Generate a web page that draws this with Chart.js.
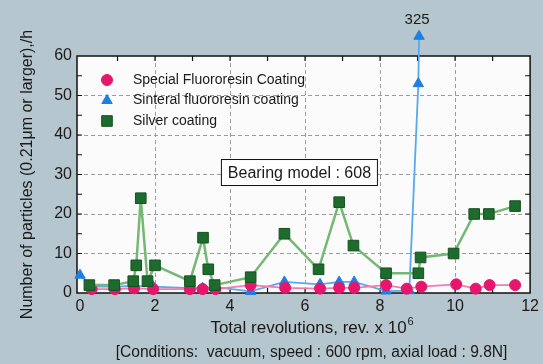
<!DOCTYPE html>
<html>
<head>
<meta charset="utf-8">
<script src="https://cdn.jsdelivr.net/npm/chart.js@4"></script>
<style>
  html, body { margin: 0; background: #b5c6ce; }
  canvas { display: block; }
</style>
</head>
<body>
<canvas id="chart" width="543" height="364"></canvas>
<script>
// readings (rev x 10^6, particles/h)
const silverRev = [0.25, 0.91, 1.42, 1.5, 1.62, 1.8, 2.0, 2.93, 3.28, 3.42, 3.59, 4.55, 5.45, 6.36, 6.91, 7.29, 8.16, 9.02, 9.08, 9.96, 10.51, 10.9, 11.6];
const silverCount = [2, 2, 3, 7, 24, 3, 7, 3, 14, 6, 2, 4, 15, 6, 23, 12, 5, 5, 9, 10, 20, 20, 22];
const specialRev = [0.31, 0.93, 1.44, 1.95, 2.93, 3.27, 3.61, 4.55, 5.47, 6.4, 6.91, 7.31, 8.16, 8.71, 9.1, 10.03, 10.55, 10.92, 11.6];
const specialCount = [1, 1, 1.2, 1, 1, 1, 1, 2, 1.3, 1.1, 1.3, 1.3, 2, 1.1, 1.6, 2.2, 1.1, 2, 2];
const sinteralRev = [0, 0.31, 0.93, 1.44, 1.95, 2.93, 3.27, 3.61, 4.55, 5.45, 6.4, 6.91, 7.31, 8.16, 8.78, 9.02, 9.04];
const sinteralCount = [4.5, 1.6, 1.6, 1.8, 1.6, 1.2, 1.2, 1.5, 0.4, 2.8, 2.2, 2.8, 2.8, 0.5, 0.6, 53, 325];

const seriesNames = ['Special Fluororesin Coating', 'Sinteral fluororesin coating', 'Silver coating'];
const xTicks = [0, 2, 4, 6, 8, 10, 12];
const yTicks = [0, 10, 20, 30, 40, 50, 60];
const yBreak = 65; // values above the axis are drawn at the break, labelled with the real value

const FONT = "'Liberation Sans', Arial, sans-serif";

function toPoints(xs, ys) {
  return xs.map((x, i) => ({ x: x, y: Math.min(ys[i], yBreak), real: ys[i] }));
}

function drawMarker(ctx, style, x, y, r, fill, stroke) {
  ctx.save();
  ctx.fillStyle = fill;
  ctx.strokeStyle = stroke;
  ctx.lineWidth = 1;
  ctx.beginPath();
  if (style === 'circle') {
    ctx.arc(x, y, r, 0, Math.PI * 2);
  } else if (style === 'triangle') {
    ctx.moveTo(x, y - r);
    ctx.lineTo(x + r * 0.866, y + r * 0.5);
    ctx.lineTo(x - r * 0.866, y + r * 0.5);
    ctx.closePath();
  } else {
    const s = r * Math.SQRT1_2;
    ctx.rect(x - s, y - s, 2 * s, 2 * s);
  }
  ctx.fill();
  ctx.stroke();
  ctx.restore();
}

const decor = {
  id: 'decor',
  beforeDraw(chart) {
    const { ctx, chartArea: a } = chart;
    ctx.save();
    ctx.fillStyle = '#fbfbfb';
    ctx.fillRect(a.left, a.top, a.right - a.left, a.bottom - a.top);
    ctx.restore();
  },
  beforeDatasetsDraw(chart) {
    const { ctx, chartArea: a, scales } = chart;
    ctx.save();
    ctx.strokeStyle = '#111';
    ctx.lineWidth = 1.5;
    ctx.strokeRect(a.left, a.top, a.right - a.left, a.bottom - a.top);
    ctx.lineWidth = 1.2;
    ctx.beginPath();
    for (let v = 1; v < 12; v++) {
      const px = scales.x.getPixelForValue(v);
      ctx.moveTo(px, a.top); ctx.lineTo(px, a.top + 5);
      ctx.moveTo(px, a.bottom); ctx.lineTo(px, a.bottom - 5);
    }
    for (let v = 5; v < 60; v += 5) {
      const py = scales.y.getPixelForValue(v);
      ctx.moveTo(a.left, py); ctx.lineTo(a.left + 5, py);
      ctx.moveTo(a.right, py); ctx.lineTo(a.right - 5, py);
    }
    ctx.stroke();
    ctx.restore();
  },
  afterDraw(chart) {
    const { ctx, chartArea: a, scales } = chart;
    ctx.save();
    ctx.fillStyle = '#1a1a1a';

    // legend inside the plot: special, sinteral, silver
    const order = [2, 1, 0];
    ctx.font = '14px ' + FONT;
    ctx.textBaseline = 'middle';
    ctx.textAlign = 'left';
    order.forEach((di, row) => {
      const d = chart.data.datasets[di];
      const y = a.top + 24 + row * 20.5;
      drawMarker(ctx, d.pointStyle, a.left + 30, y, d.pointRadius, d.pointBackgroundColor, d.pointBorderColor);
      ctx.fillStyle = '#1a1a1a';
      ctx.fillText(d.label, a.left + 56, y);
    });

    // bearing model box
    const bx = scales.x.getPixelForValue(5.85);
    const by = scales.y.getPixelForValue(30.5);
    ctx.font = '16px ' + FONT;
    const txt = 'Bearing model : 608';
    const w = 156, h = 26;
    ctx.fillStyle = '#ffffff';
    ctx.fillRect(bx - w / 2, by - h / 2, w, h);
    ctx.strokeStyle = '#111';
    ctx.lineWidth = 1;
    ctx.strokeRect(bx - w / 2, by - h / 2, w, h);
    ctx.fillStyle = '#1a1a1a';
    ctx.textAlign = 'center';
    ctx.fillText(txt, bx, by + 1);

    // points past the axis break: marker + real value
    chart.data.datasets.forEach((d, di) => {
      const meta = chart.getDatasetMeta(di);
      d.data.forEach((p, i) => {
        if (p.real > yBreak) {
          const el = meta.data[i];
          drawMarker(ctx, d.pointStyle, el.x, el.y, d.pointRadius, d.pointBackgroundColor, d.pointBorderColor);
          ctx.fillStyle = '#1a1a1a';
          ctx.font = '15px ' + FONT;
          ctx.fillText(String(p.real), el.x - 2, el.y - 16);
        }
      });
    });

    // axis titles
    const cx = (a.left + a.right) / 2 + 8;
    ctx.font = '17px ' + FONT;
    const base = 'Total revolutions, rev. x 10';
    const bw = ctx.measureText(base).width;
    ctx.font = '11px ' + FONT;
    const sw = ctx.measureText('6').width;
    const sx = cx - (bw + sw) / 2;
    ctx.textAlign = 'left';
    ctx.font = '17px ' + FONT;
    ctx.fillText(base, sx, 328);
    ctx.font = '11px ' + FONT;
    ctx.fillText('6', sx + bw + 1, 322);

    ctx.textAlign = 'center';
    ctx.font = '15.6px ' + FONT;
    ctx.fillText('[Conditions:  vacuum, speed : 600 rpm, axial load : 9.8N]', cx, 353);

    ctx.save();
    ctx.translate(28, (a.top + a.bottom) / 2);
    ctx.rotate(-Math.PI / 2);
    ctx.font = '16px ' + FONT;
    ctx.fillText('Number of particles (0.21\u03bcm or larger),/h', 0, 0);
    ctx.restore();

    ctx.restore();
  }
};

const tickFont = { family: FONT, size: 16 };

new Chart(document.getElementById('chart'), {
  type: 'line',
  data: {
    datasets: [
      {
        label: seriesNames[2],
        data: toPoints(silverRev, silverCount),
        borderColor: '#74b874',
        borderWidth: 2.5,
        pointStyle: 'rect',
        pointRadius: 7.5,
        pointBackgroundColor: '#1d6b2d',
        pointBorderColor: '#145221',
        pointBorderWidth: 1,
        order: 0
      },
      {
        label: seriesNames[1],
        data: toPoints(sinteralRev, sinteralCount),
        borderColor: '#58a9ee',
        borderWidth: 1.8,
        pointStyle: 'triangle',
        pointRadius: 6,
        pointBackgroundColor: '#1f7fe0',
        pointBorderColor: '#1f7fe0',
        pointBorderWidth: 1,
        clip: false,
        order: 2
      },
      {
        label: seriesNames[0],
        data: toPoints(specialRev, specialCount),
        borderColor: '#f07db0',
        borderWidth: 1.8,
        pointStyle: 'circle',
        pointRadius: 5.5,
        pointBackgroundColor: '#e5166b',
        pointBorderColor: '#e5166b',
        pointBorderWidth: 1,
        clip: false,
        order: 1
      }
    ]
  },
  options: {
    responsive: false,
    animation: false,
    layout: { padding: { top: 56, right: 11, left: 0, bottom: 0 } },
    plugins: { legend: { display: false }, tooltip: { enabled: false } },
    scales: {
      x: {
        type: 'linear',
        min: -0.08,
        max: 12,
        afterBuildTicks: s => { s.ticks = xTicks.map(v => ({ value: v })); },
        afterFit: s => { s.height = 71; },
        ticks: { font: tickFont, color: '#1a1a1a', padding: 4, maxRotation: 0 },
        grid: {
          drawTicks: false,
          lineWidth: 1,
          color: c => (c.tick && c.tick.value > 0 && c.tick.value < 12) ? '#9c9c9c' : 'rgba(0,0,0,0)'
        },
        border: { display: false, dash: [4, 3] }
      },
      y: {
        min: 0,
        max: 60,
        afterBuildTicks: s => { s.ticks = yTicks.map(v => ({ value: v })); },
        afterFit: s => { s.width = 77; },
        ticks: { font: tickFont, color: '#1a1a1a', padding: 5 },
        grid: {
          drawTicks: false,
          lineWidth: 1,
          color: c => (c.tick && c.tick.value > 0 && c.tick.value < 60) ? '#9c9c9c' : 'rgba(0,0,0,0)'
        },
        border: { display: false, dash: [4, 3] }
      }
    }
  },
  plugins: [decor]
});
</script>
</body>
</html>
